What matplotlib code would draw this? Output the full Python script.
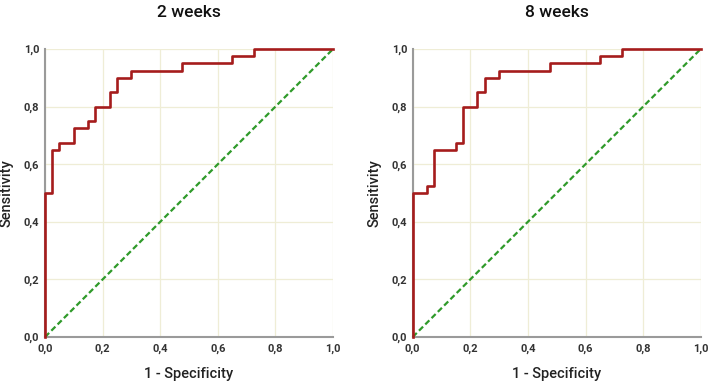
import numpy as np
import matplotlib
matplotlib.use('Agg')
import matplotlib.pyplot as plt

plt.rcParams['font.family'] = ['Roboto', 'DejaVu Sans']

# ROC step points (1 - specificity, sensitivity)
fpr_2w = [0.0, 0.0, 0.025, 0.025, 0.05, 0.05, 0.1, 0.1, 0.15, 0.15, 0.175, 0.175,
          0.225, 0.225, 0.25, 0.25, 0.3, 0.3, 0.475, 0.475, 0.65, 0.65, 0.725, 0.725, 1.0]
tpr_2w = [0.0, 0.5, 0.5, 0.65, 0.65, 0.675, 0.675, 0.725, 0.725, 0.75, 0.75, 0.8,
          0.8, 0.85, 0.85, 0.9, 0.9, 0.925, 0.925, 0.95, 0.95, 0.975, 0.975, 1.0, 1.0]

fpr_8w = [0.0, 0.0, 0.05, 0.05, 0.075, 0.075, 0.15, 0.15, 0.175, 0.175, 0.225, 0.225,
          0.25, 0.25, 0.3, 0.3, 0.475, 0.475, 0.65, 0.65, 0.725, 0.725, 1.0]
tpr_8w = [0.0, 0.5, 0.5, 0.525, 0.525, 0.65, 0.65, 0.675, 0.675, 0.8, 0.8, 0.85,
          0.85, 0.9, 0.9, 0.925, 0.925, 0.95, 0.95, 0.975, 0.975, 1.0, 1.0]

titles = ['2 weeks', '8 weeks']
ticks = [0.0, 0.2, 0.4, 0.6, 0.8, 1.0]
tick_labels = ['0,0', '0,2', '0,4', '0,6', '0,8', '1,0']

red = '#a51c1c'
green = '#2f9a2a'
grid_col = '#efedd6'
spine_col = '#9a9a9a'

fig = plt.figure(figsize=(7.08, 3.84), dpi=100)
ax1 = fig.add_axes([0.0636, 0.1224, 0.4068, 0.75])
ax2 = fig.add_axes([0.5829, 0.1224, 0.4068, 0.75])

for ax, fpr, tpr, title in [(ax1, fpr_2w, tpr_2w, titles[0]), (ax2, fpr_8w, tpr_8w, titles[1])]:
    ax.set_xlim(0, 1)
    ax.set_ylim(0, 1)
    ax.set_xticks(ticks)
    ax.set_yticks(ticks)
    ax.set_xticklabels(tick_labels, fontsize=8, fontweight='bold', color='#333333')
    ax.set_yticklabels(tick_labels, fontsize=8, fontweight='bold', color='#333333')
    ax.tick_params(length=0, pad=4)
    ax.tick_params(axis='x', pad=5)
    ax.grid(True, color=grid_col, linewidth=0.9)
    ax.set_axisbelow(True)
    for s in ['top', 'right']:
        ax.spines[s].set_visible(False)
    for s in ['left', 'bottom']:
        ax.spines[s].set_color(spine_col)
        ax.spines[s].set_linewidth(1.5)
    ax.plot([0, 1], [0, 1], color=green, linestyle=(0, (2.6, 1.4)), linewidth=1.6, zorder=3,
            clip_on=False)
    ax.plot(fpr, tpr, color=red, linewidth=1.9, zorder=4, clip_on=False)
    ax.set_xlabel('1 - Specificity', fontsize=10.5, fontweight='medium', color='#222222')
    ax.set_ylabel('Sensitivity', fontsize=10.5, fontweight='medium', color='#222222')
    ax.xaxis.set_label_coords(0.5, -0.105)
    ax.yaxis.set_label_coords(-0.108, 0.5)
    ax.set_title(title, fontsize=12.5, fontweight='medium', color='#111111', pad=23)

fig.savefig('out.png', dpi=100)
